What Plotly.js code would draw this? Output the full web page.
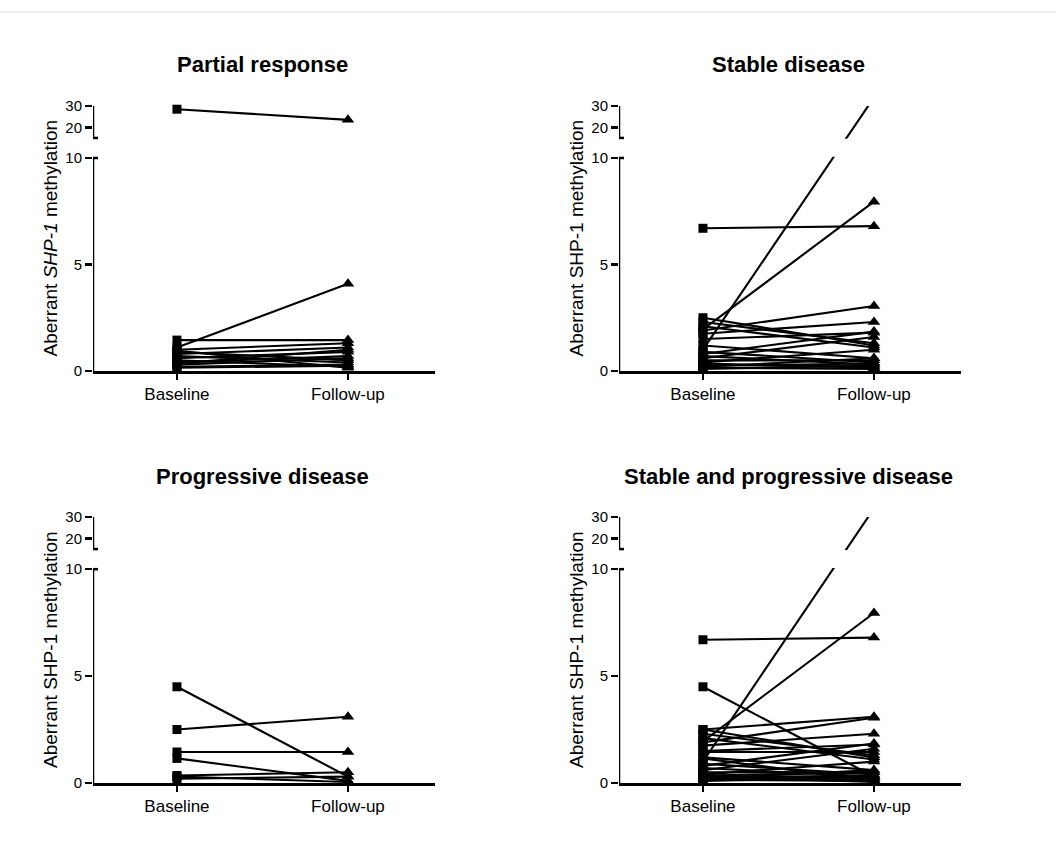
<!DOCTYPE html>
<html>
<head>
<meta charset="utf-8">
<script src="https://cdn.plot.ly/plotly-3.0.1.min.js"></script>
<style>html,body{margin:0;padding:0;background:#fff;}#chart{width:1056px;height:841px;}</style>
</head>
<body>
<div id="chart"></div>
<script>
// ---------- data (baseline -> follow-up pairs) ----------
const categories = ["Baseline", "Follow-up"];
const yTickValues = [0, 5, 10, 20, 30];
const yTickLabels = ["0", "5", "10", "20", "30"];

const prBaseline = [28.5, 1.1, 1.45, 1.0, 0.9, 0.8, 0.7, 0.6, 0.5, 0.4, 0.3, 0.2, 0.95, 0.35, 0.15];
const prFollowup = [23.5, 4.1, 1.45, 1.3, 0.5, 1.1, 0.4, 0.9, 0.2, 0.7, 0.6, 0.3, 0.15, 1.0, 0.25];

const sdBaseline = [1.0, 1.95, 6.7, 1.9, 2.3, 1.75, 2.5, 2.1, 0.8, 0.6, 1.2, 0.9, 0.5, 0.4, 0.3, 0.7, 0.2, 0.15, 0.35, 1.5, 0.1, 0.25];
const sdFollowup = [34, 7.95, 6.8, 3.05, 1.3, 2.3, 1.2, 1.1, 1.85, 1.6, 0.6, 0.4, 0.5, 1.0, 0.2, 0.3, 0.6, 0.1, 0.15, 1.8, 0.25, 0.35];

const pdBaseline = [4.5, 2.5, 1.45, 1.15, 0.35, 0.3, 0.2];
const pdFollowup = [0.3, 3.1, 1.45, 0.1, 0.5, 0.05, 0.3];

// Stable + progressive = union of both groups
const spBaseline = sdBaseline.concat(pdBaseline);
const spFollowup = sdFollowup.concat(pdFollowup);

const panelTitles = ["Partial response", "Stable disease", "Progressive disease", "Stable and progressive disease"];

// ---------- broken axis transform ----------
const LOW_TOP = 10, HIGH_BOTTOM = 15, HIGH_TOP = 30;
const HIGH_START = 10.94, HIGH_SLOPE = 0.1;
function T(v) { return v <= LOW_TOP ? v : HIGH_START + HIGH_SLOPE * (v - HIGH_BOTTOM); }
const YMAX = T(HIGH_TOP);
const XMIN = -0.491, XMAX = 1.509;

const W = 1056, H = 841;
const FONT = "Liberation Sans, Arial, sans-serif";
// panel boxes in pixels: [left, right, top(30), bottom(0)]
const boxes = [[93, 435, 106, 371], [619, 961, 106, 371], [93, 435, 517, 783], [619, 961, 517, 783]];
const groups = [[prBaseline, prFollowup], [sdBaseline, sdFollowup], [pdBaseline, pdFollowup], [spBaseline, spFollowup]];

const data = [];
const layout = {
  width: W, height: H, margin: {l: 0, r: 0, t: 0, b: 0},
  paper_bgcolor: "#fff", plot_bgcolor: "#fff", showlegend: false,
  font: {family: FONT, color: "#000"},
  shapes: [], annotations: []
};

layout.shapes.push({type: "line", xref: "paper", yref: "paper", x0: 0, x1: 1, y0: 1 - 12 / H, y1: 1 - 12 / H, line: {color: "#e2e2e2", width: 1}});

groups.forEach((g, i) => {
  const n = i + 1;
  const xa = "x" + (n === 1 ? "" : n), ya = "y" + (n === 1 ? "" : n);
  const xk = "xaxis" + (n === 1 ? "" : n), yk = "yaxis" + (n === 1 ? "" : n);
  const [l, r, t, b] = boxes[i];
  const base = g[0], fol = g[1];

  // lines
  const lx = [], ly = [];
  base.forEach((v, k) => { lx.push(categories[0], categories[1], null); ly.push(T(v), T(fol[k]), null); });
  data.push({type: "scatter", mode: "lines", x: lx, y: ly, xaxis: xa, yaxis: ya,
    line: {color: "#000", width: 2.1}, hoverinfo: "skip"});
  // markers (values above the axis top are off scale)
  data.push({type: "scatter", mode: "markers", xaxis: xa, yaxis: ya, cliponaxis: false,
    x: base.filter(v => v <= HIGH_TOP).map(() => categories[0]),
    y: base.filter(v => v <= HIGH_TOP).map(T),
    marker: {symbol: "square", size: 9, color: "#000"}, hoverinfo: "skip"});
  data.push({type: "scatter", mode: "markers", xaxis: xa, yaxis: ya, cliponaxis: false,
    x: fol.filter(v => v <= HIGH_TOP).map(() => categories[1]),
    y: fol.filter(v => v <= HIGH_TOP).map(T),
    marker: {symbol: "triangle-up", size: 11, color: "#000"}, hoverinfo: "skip"});

  layout[xk] = {
    domain: [l / W, r / W], anchor: ya, type: "category",
    categoryarray: categories, range: [XMIN, XMAX],
    showline: true, linecolor: "#000", linewidth: 2.5,
    ticks: "outside", ticklen: 6, tickwidth: 2.5, tickcolor: "#000",
    showgrid: false, zeroline: false,
    tickfont: {family: FONT, size: 17, color: "#000"}
  };
  layout[yk] = {
    domain: [1 - b / H, 1 - t / H], anchor: xa, range: [0, YMAX],
    showline: false, showgrid: false, zeroline: false,
    tickmode: "array", tickvals: yTickValues.map(T), ticktext: yTickLabels,
    ticks: "outside", ticklen: 7, tickwidth: 2.5, tickcolor: "#000",
    tickfont: {family: FONT, size: 15, color: "#000"}
  };

  // gap cut for lines crossing the break
  layout.shapes.push({type: "rect", xref: xa, yref: ya, layer: "above",
    x0: XMIN + 0.015, x1: XMAX, y0: LOW_TOP + 0.06, y1: T(HIGH_BOTTOM) - 0.04,
    fillcolor: "#fff", line: {width: 0}});
  // axis segments
  layout.shapes.push({type: "line", xref: xa, yref: ya, layer: "above", xsizemode: "pixel", xanchor: XMIN,
    x0: 0, x1: 0, y0: 0, y1: LOW_TOP, line: {color: "#000", width: 2.5}});
  layout.shapes.push({type: "line", xref: xa, yref: ya, layer: "above", xsizemode: "pixel", xanchor: XMIN,
    x0: 0, x1: 0, y0: T(HIGH_BOTTOM), y1: YMAX, line: {color: "#000", width: 2.5}});
  // break caps
  layout.shapes.push({type: "line", xref: xa, yref: ya, layer: "above", xsizemode: "pixel", xanchor: XMIN,
    x0: -6, x1: 5, y0: T(HIGH_BOTTOM), y1: T(HIGH_BOTTOM), line: {color: "#000", width: 2.5}});
  layout.shapes.push({type: "line", xref: xa, yref: ya, layer: "above", xsizemode: "pixel", xanchor: XMIN,
    x0: 0, x1: 5, y0: LOW_TOP, y1: LOW_TOP, line: {color: "#000", width: 2.5}});

  // panel title
  layout.annotations.push({xref: xa, yref: "paper", x: 0.5, y: 1 - (t - 41) / H,
    text: panelTitles[i], showarrow: false, xanchor: "center", yanchor: "middle",
    font: {family: FONT, size: 22, weight: "bold", color: "#000"}});
  // y axis title
  const ytitle = i === 0 ? "Aberrant <i>SHP-1</i> methylation" : "Aberrant SHP-1 methylation";
  layout.annotations.push({xref: "paper", yref: "paper", x: (l - 43) / W, y: 1 - ((t + b) / 2) / H,
    text: ytitle, textangle: -90, showarrow: false, xanchor: "center", yanchor: "middle",
    font: {family: FONT, size: 19, color: "#000"}});
});

Plotly.newPlot("chart", data, layout, {staticPlot: true});
</script>
</body>
</html>
